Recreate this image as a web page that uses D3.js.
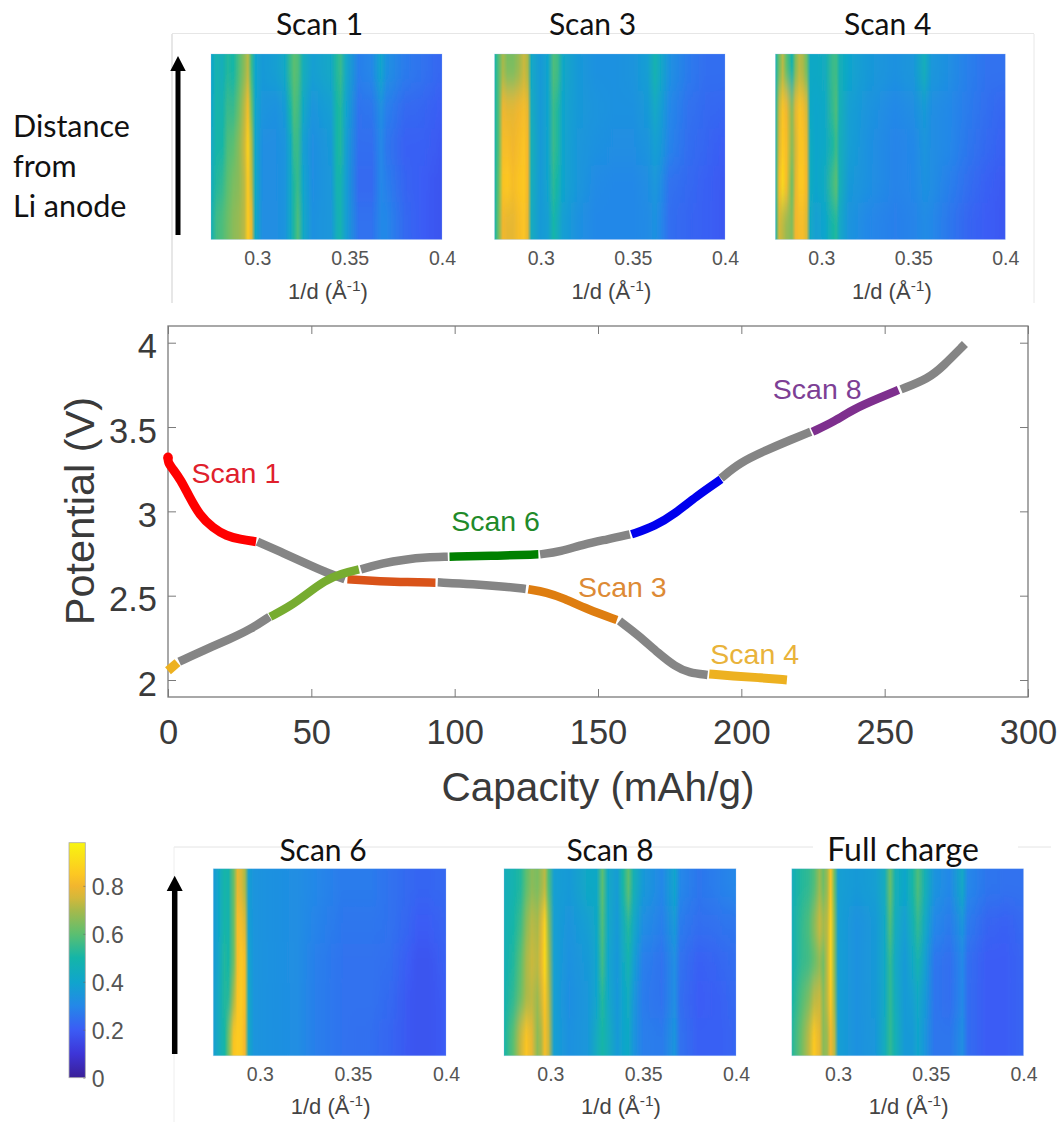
<!DOCTYPE html>
<html><head><meta charset="utf-8">
<script src="https://cdn.jsdelivr.net/npm/d3@7"></script>
<style>html,body{margin:0;padding:0;background:#fff}svg{display:block}</style>
</head><body><svg id="c" width="1061" height="1122"></svg>
<script>
// ---------- voltage curve segments [capacity, potential] ----------
const segScan1=[[0,3.32],[0,3.29],[1.5,3.255],[4.5,3.186],[7.4,3.087],[11,2.978],[15.7,2.90],[20.4,2.854],[25.1,2.834],[30.7,2.82]];
const segGrayD1=[[31.2,2.82],[39.3,2.76],[47.5,2.696],[54.6,2.642],[61.7,2.597]];
const segScan2=[[62.6,2.597],[71.1,2.589],[80.5,2.581],[93.3,2.577]];
const segGrayD2=[[94.1,2.579],[106.5,2.569],[118.3,2.553],[124.8,2.54]];
const segScan3=[[125.7,2.538],[132.2,2.52],[138.1,2.484],[146.3,2.419],[156.6,2.356]];
const segGrayD3=[[157.5,2.35],[164,2.267],[171.1,2.158],[177,2.079],[181.7,2.043],[188.2,2.03]];
const segScan4=[[188.8,2.036],[197,2.024],[206.5,2.014],[215.9,2.0]];
const segStart=[[0,2.055],[3.3,2.103]];
const segGrayC1=[[3.9,2.109],[12.1,2.174],[21.6,2.243],[28.7,2.30],[35.4,2.375]];
const segScan5=[[35.7,2.375],[42.8,2.439],[48.7,2.514],[54.6,2.589],[60.5,2.632],[66.6,2.656]];
const segGrayC2=[[67.3,2.656],[74.6,2.692],[82.9,2.715],[90,2.727],[97.6,2.731]];
const segScan6=[[98.2,2.731],[112.4,2.735],[129.2,2.745]];
const segGrayC3=[[129.8,2.745],[136.9,2.761],[145.2,2.806],[153.4,2.834],[161.1,2.864]];
const segScan7=[[161.7,2.864],[169.9,2.913],[177,2.988],[184.1,3.087],[192.9,3.19]];
const segGrayC4=[[192.9,3.196],[199.4,3.289],[208.9,3.364],[217.1,3.423],[224.2,3.472]];
const segScan8=[[224.8,3.472],[232.4,3.532],[239.5,3.61],[247.8,3.67],[254.8,3.72]];
const segGrayC5=[[255.7,3.723],[265.4,3.789],[270.2,3.858],[278,3.992]];

const curveSegments=[segGrayD1,segScan2,segGrayD2,segScan3,segGrayD3,segScan4,segStart,segGrayC1,segScan5,segGrayC2,segScan6,segGrayC3,segScan7,segGrayC4,segScan8,segGrayC5,segScan1];
const curveColors=["#858585","#d95319","#858585","#de7d10","#858585","#edb120","#edb120","#858585","#77ac30","#858585","#008000","#858585","#0000ee","#858585","#7e2f8e","#858585","#ff0000"];

const capacityTicks=[0,50,100,150,200,250,300];
const potentialTicks=[2,2.5,3,3.5,4];
const dTicks=[0.3,0.35,0.4];
const colorbarTicks=[0,0.2,0.4,0.6,0.8];
const curveLabels=["Scan 1","Scan 6","Scan 3","Scan 4","Scan 8"];
const curveLabelColors=["#e0202c","#1f8a2a","#dd8a35","#e9b33a","#7d3f95"];
const curveLabelCap=[8.2,98.8,143,189.2,211];
const curveLabelPot=[3.23,2.94,2.553,2.157,3.727];

// ---------- colour bar value -> colour ----------
const cmapValues=[0,0.1,0.2,0.3,0.4,0.5,0.6,0.7,0.75,0.8,0.85,0.98];
const cmapColors=["#3a1f97","#3d35d8","#3b5cf5","#2488e8","#10a5cc","#14b5a8","#5cbf70","#a8b94a","#d4b83a","#f2b62e","#fdc822","#f8f510"];

// ---------- heat maps: intensity at 1/d stops, five heights (top to bottom) ----------
const scan1Q=[.275,.278,.281,.284,.287,.290,.293,.295,.297,.299,.303,.31,.315,.318,.320,.322,.325,.33,.34,.343,.345,.348,.355,.362,.367,.37,.38,.39,.40];
const scan1Rows=[
[.40,.48,.45,.52,.50,.58,.66,.72,.55,.40,.36,.38,.42,.55,.60,.58,.45,.38,.42,.52,.55,.42,.28,.30,.40,.33,.27,.25,.22],
[.40,.50,.48,.55,.55,.62,.72,.82,.62,.40,.34,.33,.36,.50,.58,.56,.42,.34,.38,.50,.52,.40,.25,.26,.32,.28,.23,.22,.20],
[.42,.50,.50,.58,.60,.66,.74,.88,.70,.40,.32,.32,.34,.42,.55,.55,.38,.32,.36,.50,.52,.38,.24,.24,.30,.26,.21,.21,.19],
[.44,.52,.54,.60,.64,.66,.72,.85,.72,.42,.32,.32,.34,.42,.52,.55,.40,.32,.35,.48,.48,.38,.23,.23,.30,.28,.22,.20,.18],
[.46,.56,.58,.62,.66,.68,.72,.86,.78,.42,.32,.32,.34,.42,.52,.58,.42,.33,.35,.45,.48,.38,.25,.25,.30,.30,.23,.20,.18]];
const scan3Q=[.275,.277,.2795,.282,.285,.288,.291,.293,.295,.30,.304,.307,.309,.312,.32,.33,.34,.35,.358,.362,.365,.37,.38,.39,.40];
const scan3Rows=[
[.50,.58,.70,.64,.64,.68,.74,.70,.42,.36,.40,.58,.56,.42,.36,.33,.33,.34,.38,.48,.42,.33,.27,.24,.24],
[.50,.58,.80,.78,.78,.80,.82,.78,.44,.36,.40,.55,.52,.40,.36,.34,.33,.33,.36,.42,.38,.30,.25,.23,.22],
[.50,.58,.82,.82,.80,.82,.84,.80,.46,.36,.40,.55,.52,.40,.35,.33,.32,.32,.34,.38,.36,.29,.24,.22,.20],
[.50,.60,.84,.85,.82,.84,.85,.80,.45,.36,.40,.53,.50,.40,.35,.31,.30,.30,.32,.35,.32,.25,.23,.21,.19],
[.50,.62,.80,.78,.78,.82,.84,.78,.44,.36,.38,.50,.45,.38,.33,.30,.30,.30,.31,.33,.30,.24,.22,.21,.19]];
const scan4Q=[.275,.277,.279,.281,.284,.286,.288,.290,.292,.294,.297,.302,.306,.308,.31,.315,.325,.34,.35,.356,.36,.37,.38,.39,.40];
const scan4Rows=[
[.48,.62,.72,.60,.48,.65,.72,.70,.62,.42,.42,.44,.55,.56,.46,.40,.36,.33,.35,.45,.35,.32,.28,.25,.25],
[.50,.74,.84,.80,.66,.78,.84,.82,.75,.42,.40,.42,.54,.58,.46,.38,.34,.30,.32,.36,.32,.30,.27,.24,.22],
[.50,.76,.85,.82,.66,.75,.84,.84,.78,.44,.40,.42,.50,.55,.45,.38,.33,.29,.30,.34,.32,.30,.26,.23,.21],
[.50,.82,.90,.82,.62,.78,.85,.85,.80,.44,.40,.44,.56,.60,.46,.36,.33,.29,.30,.33,.32,.28,.24,.21,.19],
[.50,.75,.72,.68,.65,.80,.82,.82,.76,.42,.38,.40,.50,.52,.42,.34,.30,.28,.29,.31,.30,.26,.22,.20,.19]];
const scan6Q=[.275,.278,.281,.283,.286,.288,.290,.292,.294,.297,.305,.32,.33,.345,.36,.37,.38,.385,.39,.40];
const scan6Rows=[
[.36,.42,.50,.48,.62,.78,.76,.70,.38,.34,.33,.32,.30,.27,.27,.25,.23,.22,.22,.23],
[.36,.42,.50,.48,.62,.82,.82,.76,.38,.34,.33,.32,.29,.26,.26,.25,.22,.20,.20,.22],
[.36,.42,.52,.50,.62,.82,.85,.82,.40,.34,.33,.32,.28,.25,.25,.24,.20,.18,.18,.21],
[.38,.44,.52,.52,.70,.84,.86,.82,.42,.34,.33,.32,.28,.25,.25,.23,.19,.18,.18,.20],
[.38,.44,.50,.62,.84,.86,.85,.80,.42,.34,.33,.32,.28,.25,.24,.22,.19,.18,.18,.20]];
const scan8Q=[.275,.28,.284,.287,.29,.293,.295,.297,.299,.302,.31,.32,.325,.328,.331,.336,.339,.342,.345,.35,.36,.367,.37,.38,.39,.40];
const scan8Rows=[
[.45,.48,.52,.60,.66,.64,.68,.72,.58,.38,.36,.42,.42,.60,.42,.37,.50,.60,.46,.36,.30,.40,.30,.26,.28,.30],
[.46,.50,.56,.66,.72,.70,.76,.88,.66,.38,.34,.38,.42,.58,.42,.36,.44,.52,.42,.32,.28,.36,.27,.24,.25,.26],
[.46,.52,.60,.70,.74,.72,.78,.90,.70,.38,.33,.36,.40,.56,.40,.35,.42,.48,.38,.28,.25,.32,.25,.21,.22,.24],
[.48,.54,.62,.70,.72,.68,.74,.84,.72,.38,.32,.35,.40,.52,.42,.35,.40,.44,.35,.27,.25,.32,.24,.20,.21,.23],
[.50,.60,.74,.84,.78,.66,.70,.82,.74,.38,.33,.35,.44,.50,.45,.36,.40,.42,.34,.28,.27,.34,.25,.21,.21,.22]];
const fullQ=[.275,.28,.284,.287,.29,.292,.294,.296,.298,.30,.31,.32,.325,.328,.331,.336,.34,.343,.347,.352,.36,.367,.37,.38,.39,.40];
const fullRows=[
[.45,.52,.54,.58,.68,.62,.68,.84,.62,.38,.36,.38,.44,.62,.46,.40,.50,.58,.46,.34,.30,.42,.30,.26,.25,.25],
[.46,.54,.58,.66,.74,.70,.72,.88,.66,.38,.33,.36,.42,.58,.44,.38,.46,.54,.42,.30,.27,.34,.27,.22,.21,.23],
[.46,.54,.56,.60,.66,.62,.72,.88,.66,.38,.33,.36,.42,.54,.42,.36,.42,.48,.38,.26,.24,.30,.24,.20,.20,.22],
[.50,.58,.64,.72,.74,.66,.72,.85,.68,.38,.33,.36,.42,.54,.44,.36,.38,.42,.36,.26,.24,.30,.24,.20,.20,.22],
[.52,.62,.72,.85,.78,.66,.68,.80,.72,.38,.33,.35,.44,.54,.46,.36,.36,.40,.34,.26,.26,.32,.24,.20,.20,.22]];

const panelTitles=["Scan 1","Scan 3","Scan 4","Scan 6","Scan 8","Full charge"];
const panelQ=[scan1Q,scan3Q,scan4Q,scan6Q,scan8Q,fullQ];
const panelRows=[scan1Rows,scan3Rows,scan4Rows,scan6Rows,scan8Rows,fullRows];

// ---------- layout ----------
const panelBox=[[211,442,54,239.5],[494.6,725,54,239.5],[775.4,1005.3,54,239.5],[213.3,446,868.7,1055.7],[504,736,868.7,1055.7],[791.8,1023.5,868.7,1055.7]];
const panelTitlePos=[[319.5,23],[592.5,23],[887.7,23],[323,849],[610,849],[903,848]];
const panelTitleSize=[30,30,30,30,30,32];
const SANS="'Liberation Sans',Arial,sans-serif", HUM="Lato,'Open Sans',sans-serif";

const svg=d3.select("#c"), defs=svg.append("defs");
const cmap=d3.scaleLinear().domain(cmapValues).range(cmapColors).interpolate(d3.interpolateRgb).clamp(true);

const frames=[[172,33.5,1034,33.5,"#e6e6e6"],[172,34,172,303,"#cfcfcf"],[1034,34,1034,303,"#e8e8e8"],
 [174,847,813,847,"#e4e4e4"],[1018,847,1051,847,"#e4e4e4"],[174,847,174,1122,"#eeeeee"]];
svg.selectAll("line.frame").data(frames).join("line").attr("class","frame")
 .attr("x1",d=>d[0]).attr("y1",d=>d[1]).attr("x2",d=>d[2]).attr("y2",d=>d[3]).attr("stroke",d=>d[4]);

panelBox.forEach((b,i)=>{
  const [x0,x1,y0,y1]=b;
  const x=d3.scaleLinear().domain([.275,.4]).range([x0,x1]);
  const rows=panelRows[i], q=panelQ[i];
  const y=d3.scaleBand().domain(d3.range(rows.length)).range([y0,y1]);
  defs.append("clipPath").attr("id","clip"+i).append("rect").attr("x",x0).attr("y",y0).attr("width",x1-x0).attr("height",y1-y0);
  defs.append("filter").attr("id","blur"+i).attr("filterUnits","userSpaceOnUse")
    .attr("x",x0-20).attr("y",y0-60).attr("width",x1-x0+40).attr("height",y1-y0+120)
    .append("feGaussianBlur").attr("stdDeviation","0.7 13");
  const g=svg.append("g").attr("clip-path",`url(#clip${i})`).append("g").attr("filter",`url(#blur${i})`);
  rows.forEach((r,k)=>{
    const id=`grad${i}_${k}`;
    const gr=defs.append("linearGradient").attr("id",id).attr("gradientUnits","userSpaceOnUse")
      .attr("x1",x0).attr("x2",x1).attr("y1",0).attr("y2",0);
    gr.selectAll("stop").data(r).join("stop").attr("offset",(d,j)=>(q[j]-.275)/.125).attr("stop-color",d=>cmap(d));
    const top=k===0?y0-50:y(k), bot=k===rows.length-1?y1+50:y(k)+y.bandwidth();
    g.append("rect").attr("x",x0-15).attr("width",x1-x0+30).attr("y",top).attr("height",bot-top+0.5).attr("fill",`url(#${id})`);
  });
  svg.append("rect").attr("x",x0).attr("y",y0).attr("width",x1-x0).attr("height",y1-y0).attr("fill","none").attr("stroke","#9fc0ef").attr("stroke-opacity",.35).attr("stroke-width",.8);
  const ax=svg.append("g").attr("transform",`translate(0,${y1})`).call(d3.axisBottom(x).tickValues(dTicks).tickSize(0).tickFormat(d=>String(d)));
  ax.select(".domain").remove();
  const top=i<3;
  ax.selectAll("text").attr("y",18.5).attr("dy",0).attr("dominant-baseline","central")
    .attr("font-family",SANS).attr("font-size",19.5).attr("fill","#555");
  const lab=svg.append("text").attr("x",(x0+x1)/2+(top?1.5:1)).attr("y",y1+(top?59:58)).attr("text-anchor","middle")
    .attr("font-family",SANS).attr("font-size",22).attr("fill","#444");
  lab.append("tspan").text("1/d (Å");
  lab.append("tspan").attr("dy",-8).attr("font-size",15.5).text("-1");
  lab.append("tspan").attr("dy",8).text(")");
  svg.append("text").attr("x",panelTitlePos[i][0]).attr("y",panelTitlePos[i][1]).attr("text-anchor","middle")
    .attr("dominant-baseline","central").attr("font-family",HUM).attr("font-size",panelTitleSize[i]).attr("fill","#111").text(panelTitles[i]);
});

[[178,235,56,71,5,15.5],[174.7,1054,875.7,891,5.5,16]].forEach(a=>{
  svg.append("path").attr("fill","#000").attr("d",
   `M${a[0]-a[4]/2},${a[1]}V${a[3]}H${a[0]-a[5]/2}L${a[0]},${a[2]}L${a[0]+a[5]/2},${a[3]}H${a[0]+a[4]/2}V${a[1]}Z`);
});

["Distance","from","Li anode"].forEach((t,i)=>svg.append("text").attr("x",13).attr("y",125+40*i)
  .attr("dominant-baseline","central").attr("font-family",HUM).attr("font-size",30.5).attr("fill","#111").text(t));

const X=d3.scaleLinear().domain([0,300]).range([168,1028]);
const Y=d3.scaleLinear().domain([2,4]).range([680,342.7]);
const mTop=326,mBot=697;
svg.append("rect").attr("x",168).attr("y",mTop).attr("width",860).attr("height",mBot-mTop).attr("fill","none").attr("stroke","#7a7a7a").attr("stroke-width",1.3);
const AXC="#7a7a7a";
function styleAxis(g){g.select(".domain").remove();g.selectAll("line").attr("stroke",AXC).attr("stroke-width",1);}
svg.append("g").attr("transform",`translate(0,${mBot})`).call(d3.axisBottom(X).tickValues(capacityTicks).tickSizeInner(-8).tickFormat(d=>String(d))).call(styleAxis)
  .selectAll("text").attr("y",35).attr("dy",0).attr("dominant-baseline","central").attr("font-family",SANS).attr("font-size",34.5).attr("fill","#3a3a3a");
svg.append("g").attr("transform",`translate(0,${mTop})`).call(d3.axisTop(X).tickValues(capacityTicks).tickSizeInner(-8).tickFormat("")).call(styleAxis);
svg.append("g").attr("transform","translate(168,0)").call(d3.axisLeft(Y).tickValues(potentialTicks).tickSizeInner(-8).tickFormat(d=>String(d))).call(styleAxis)
  .selectAll("text").attr("x",-11).attr("y",3).attr("dy",0).attr("dominant-baseline","central").attr("font-family",SANS).attr("font-size",34.5).attr("fill","#3a3a3a");
svg.append("g").attr("transform","translate(1028,0)").call(d3.axisRight(Y).tickValues(potentialTicks).tickSizeInner(-8).tickFormat("")).call(styleAxis);

svg.append("text").attr("x",598).attr("y",787).attr("text-anchor","middle").attr("dominant-baseline","central")
  .attr("font-family",SANS).attr("font-size",40.5).attr("fill","#3a3a3a").text("Capacity (mAh/g)");
svg.append("text").attr("transform","translate(79,511) rotate(-90)").attr("text-anchor","middle").attr("dominant-baseline","central")
  .attr("font-family",SANS).attr("font-size",41.5).attr("fill","#3a3a3a").text("Potential (V)");

const line=d3.line().x(d=>X(d[0])).y(d=>Y(d[1])).curve(d3.curveBasis);
svg.selectAll("path.seg").data(curveSegments).join("path").attr("class","seg")
  .attr("d",line).attr("fill","none").attr("stroke",(d,i)=>curveColors[i])
  .attr("stroke-width",(d,i)=>curveColors[i]==="#ff0000"||curveColors[i]==="#edb120"?9:8.5).attr("stroke-linecap","butt");
svg.append("circle").attr("cx",X(segScan1[0][0])).attr("cy",Y(segScan1[0][1])).attr("r",4.8).attr("fill","#ff0000");

svg.selectAll("text.cl").data(curveLabels).join("text").attr("class","cl")
  .attr("x",(d,i)=>X(curveLabelCap[i])).attr("y",(d,i)=>Y(curveLabelPot[i]))
  .attr("dominant-baseline","central").attr("font-family",SANS).attr("font-size",28.5)
  .attr("fill",(d,i)=>curveLabelColors[i]).text(d=>d);

const CY=d3.scaleLinear().domain([0,0.98]).range([1077.7,842.7]);
const cg=defs.append("linearGradient").attr("id","cbar").attr("x1",0).attr("x2",0).attr("y1",1).attr("y2",0);
cg.selectAll("stop").data(cmapValues).join("stop").attr("offset",d=>d/0.98).attr("stop-color",d=>cmap(d));
svg.append("rect").attr("x",69).attr("y",842.7).attr("width",16.3).attr("height",235).attr("fill","url(#cbar)").attr("stroke","#aaa").attr("stroke-width",.8);
const cax=svg.append("g").attr("transform","translate(85.3,0)").call(d3.axisRight(CY).tickValues(colorbarTicks).tickSizeInner(-2).tickFormat(d=>String(d)));
cax.select(".domain").remove();
cax.selectAll("line").attr("stroke","#666").attr("stroke-opacity",.6);
cax.selectAll("text").attr("x",6.5).attr("y",1).attr("dy",0).attr("dominant-baseline","central").attr("font-family",SANS).attr("font-size",23).attr("fill","#555");
</script></body></html>
